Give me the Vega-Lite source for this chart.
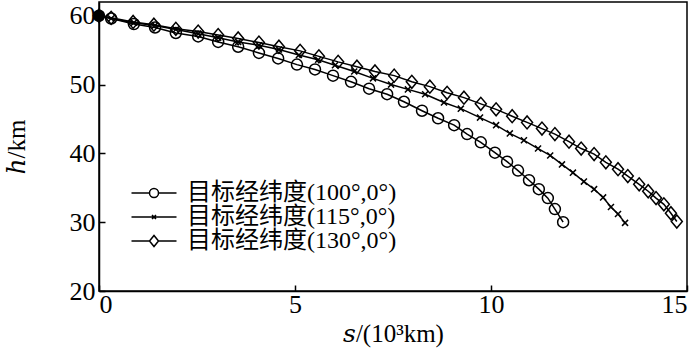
{
  "$schema": "https://vega.github.io/schema/vega-lite/v6.json",
  "width": 588,
  "height": 289,
  "autosize": {"type": "none"},
  "padding": {"left": 99, "top": 2, "right": 13, "bottom": 65},
  "config": {
    "view": {"stroke": "black", "strokeWidth": 1.5},
    "font": "Liberation Serif",
    "axis": {
      "grid": false, "domainColor": "black", "domainWidth": 1.5,
      "tickColor": "black", "tickWidth": 1.5, "tickSize": -6,
      "labelFont": "Liberation Serif", "labelFontSize": 26, "labelColor": "black",
      "titleFont": "Liberation Serif, DejaVu Serif", "titleFontSize": 25, "titleFontWeight": "normal", "titleColor": "black"
    }
  },
  "datasets": {
    "curves": [
      {"lon": 100, "s": 0, "h": 60}, {"lon": 100, "s": 0.31, "h": 59.6}, {"lon": 100, "s": 0.89, "h": 58.8}, {"lon": 100, "s": 1.43, "h": 58.3}, {"lon": 100, "s": 1.96, "h": 57.5}, {"lon": 100, "s": 2.53, "h": 57.0}, {"lon": 100, "s": 3.04, "h": 56.2}, {"lon": 100, "s": 3.55, "h": 55.5}, {"lon": 100, "s": 4.08, "h": 54.6}, {"lon": 100, "s": 4.57, "h": 53.8}, {"lon": 100, "s": 5.05, "h": 52.9}, {"lon": 100, "s": 5.51, "h": 52.2}, {"lon": 100, "s": 5.97, "h": 51.3}, {"lon": 100, "s": 6.43, "h": 50.4}, {"lon": 100, "s": 6.89, "h": 49.4}, {"lon": 100, "s": 7.35, "h": 48.6}, {"lon": 100, "s": 7.78, "h": 47.5}, {"lon": 100, "s": 8.24, "h": 46.2}, {"lon": 100, "s": 8.65, "h": 45.1}, {"lon": 100, "s": 9.06, "h": 44.1}, {"lon": 100, "s": 9.39, "h": 42.8}, {"lon": 100, "s": 9.74, "h": 41.6}, {"lon": 100, "s": 10.10, "h": 40.1}, {"lon": 100, "s": 10.41, "h": 38.8}, {"lon": 100, "s": 10.69, "h": 37.5}, {"lon": 100, "s": 10.97, "h": 36.1}, {"lon": 100, "s": 11.22, "h": 34.8}, {"lon": 100, "s": 11.45, "h": 33.5}, {"lon": 100, "s": 11.63, "h": 31.9}, {"lon": 100, "s": 11.84, "h": 30.0},
      {"lon": 115, "s": 0, "h": 60}, {"lon": 115, "s": 0.31, "h": 59.6}, {"lon": 115, "s": 0.89, "h": 59.0}, {"lon": 115, "s": 1.43, "h": 58.6}, {"lon": 115, "s": 1.96, "h": 58.0}, {"lon": 115, "s": 2.53, "h": 57.4}, {"lon": 115, "s": 3.04, "h": 56.8}, {"lon": 115, "s": 3.55, "h": 56.2}, {"lon": 115, "s": 4.08, "h": 55.7}, {"lon": 115, "s": 4.59, "h": 55.1}, {"lon": 115, "s": 5.10, "h": 54.3}, {"lon": 115, "s": 5.59, "h": 53.6}, {"lon": 115, "s": 6.02, "h": 52.8}, {"lon": 115, "s": 6.51, "h": 51.9}, {"lon": 115, "s": 6.99, "h": 50.9}, {"lon": 115, "s": 7.45, "h": 50.0}, {"lon": 115, "s": 7.88, "h": 49.3}, {"lon": 115, "s": 8.32, "h": 48.6}, {"lon": 115, "s": 8.80, "h": 47.4}, {"lon": 115, "s": 9.23, "h": 46.5}, {"lon": 115, "s": 9.72, "h": 45.2}, {"lon": 115, "s": 10.13, "h": 44.1}, {"lon": 115, "s": 10.48, "h": 42.9}, {"lon": 115, "s": 10.84, "h": 41.9}, {"lon": 115, "s": 11.20, "h": 40.7}, {"lon": 115, "s": 11.51, "h": 39.7}, {"lon": 115, "s": 11.81, "h": 38.4}, {"lon": 115, "s": 12.09, "h": 37.2}, {"lon": 115, "s": 12.37, "h": 35.9}, {"lon": 115, "s": 12.63, "h": 34.8}, {"lon": 115, "s": 12.86, "h": 33.6}, {"lon": 115, "s": 13.06, "h": 32.2}, {"lon": 115, "s": 13.24, "h": 31.2}, {"lon": 115, "s": 13.42, "h": 29.9},
      {"lon": 130, "s": 0, "h": 60}, {"lon": 130, "s": 0.31, "h": 59.7}, {"lon": 130, "s": 0.87, "h": 59.1}, {"lon": 130, "s": 1.40, "h": 58.7}, {"lon": 130, "s": 1.96, "h": 58.1}, {"lon": 130, "s": 2.53, "h": 57.7}, {"lon": 130, "s": 3.04, "h": 57.2}, {"lon": 130, "s": 3.55, "h": 56.7}, {"lon": 130, "s": 4.08, "h": 56.1}, {"lon": 130, "s": 4.59, "h": 55.5}, {"lon": 130, "s": 5.13, "h": 54.9}, {"lon": 130, "s": 5.61, "h": 54.1}, {"lon": 130, "s": 6.10, "h": 53.3}, {"lon": 130, "s": 6.58, "h": 52.6}, {"lon": 130, "s": 7.04, "h": 51.9}, {"lon": 130, "s": 7.53, "h": 51.3}, {"lon": 130, "s": 7.98, "h": 50.4}, {"lon": 130, "s": 8.44, "h": 49.7}, {"lon": 130, "s": 8.88, "h": 48.8}, {"lon": 130, "s": 9.31, "h": 48.1}, {"lon": 130, "s": 9.74, "h": 47.2}, {"lon": 130, "s": 10.13, "h": 46.4}, {"lon": 130, "s": 10.54, "h": 45.4}, {"lon": 130, "s": 10.92, "h": 44.5}, {"lon": 130, "s": 11.30, "h": 43.6}, {"lon": 130, "s": 11.63, "h": 42.8}, {"lon": 130, "s": 11.99, "h": 41.7}, {"lon": 130, "s": 12.30, "h": 40.7}, {"lon": 130, "s": 12.63, "h": 39.9}, {"lon": 130, "s": 12.93, "h": 38.7}, {"lon": 130, "s": 13.24, "h": 37.7}, {"lon": 130, "s": 13.49, "h": 36.7}, {"lon": 130, "s": 13.78, "h": 35.5}, {"lon": 130, "s": 14.01, "h": 34.5}, {"lon": 130, "s": 14.21, "h": 33.5}, {"lon": 130, "s": 14.41, "h": 32.6}, {"lon": 130, "s": 14.59, "h": 31.3}, {"lon": 130, "s": 14.74, "h": 30.1}
    ],
    "start": [{"s": 0, "h": 60}]
  },
  "encoding": {
    "x": {"field": "s", "type": "quantitative", "scale": {"domain": [0, 15], "nice": false, "zero": false},
      "axis": {"values": [0, 5, 10, 15], "title": "𝑠/(10³km)", "labelPadding": 6, "titlePadding": 4}},
    "y": {"field": "h", "type": "quantitative", "scale": {"domain": [20, 62], "nice": false, "zero": false},
      "axis": {"values": [20, 30, 40, 50, 60], "title": "ℎ/km", "labelPadding": 10, "titlePadding": 40}}
  },
  "layer": [
    {
      "data": {"name": "curves"},
      "mark": {"type": "line", "color": "black", "strokeWidth": 1.5},
      "encoding": {"detail": {"field": "lon", "type": "nominal"}}
    },
    {
      "data": {"name": "curves"},
      "mark": {"type": "point", "filled": false, "color": "black", "strokeWidth": 1.5, "opacity": 1, "size": 121},
      "encoding": {
        "shape": {"field": "lon", "type": "nominal",
          "scale": {"domain": [100, 115, 130], "range": ["M-1,0A1,1,0,1,0,1,0A1,1,0,1,0,-1,0Z", "M-0.55,-0.55L0.55,0.55M-0.55,0.55L0.55,-0.55", "M-1,0L0,-1.18L1,0L0,1.18Z"]},
          "legend": null
        }
      }
    },
    {
      "data": {"name": "curves"},
      "transform": [{"filter": "datum.s < 0"}],
      "mark": {"type": "point", "filled": false, "color": "black", "strokeWidth": 1.5, "opacity": 1, "size": 400},
      "encoding": {
        "shape": {"field": "lon", "type": "nominal",
          "scale": {"domain": [100, 115, 130], "range": [
            "M-2.25,0L-0.45,0M0.45,0L2.25,0M-0.45,0A0.45,0.45,0,1,0,0.45,0A0.45,0.45,0,1,0,-0.45,0",
            "M-2.25,0L2.25,0M-0.2,-0.2L0.2,0.2M-0.2,0.2L0.2,-0.2",
            "M-2.25,0L-0.45,0M0.45,0L2.25,0M-0.45,0L0,-0.55L0.45,0L0,0.55Z"]},
          "legend": {
            "title": null, "orient": "none", "legendX": 43, "legendY": 179, "padding": 0,
            "rowPadding": -7, "labelOffset": 21, "labelLimit": 0,
            "labelFont": "Liberation Serif, Noto Sans CJK SC", "labelFontSize": 24, "labelColor": "black",
            "symbolStrokeWidth": 1.5, "symbolStrokeColor": "black", "symbolSize": 400,
            "labelExpr": "'目标经纬度(' + datum.label + '°,0°)'"
          }
        }
      }
    },
    {
      "data": {"name": "start"},
      "mark": {"type": "point", "filled": true, "color": "black", "opacity": 1, "size": 120}
    }
  ],
  "resolve": {"scale": {"shape": "independent"}, "legend": {"shape": "independent"}}
}
